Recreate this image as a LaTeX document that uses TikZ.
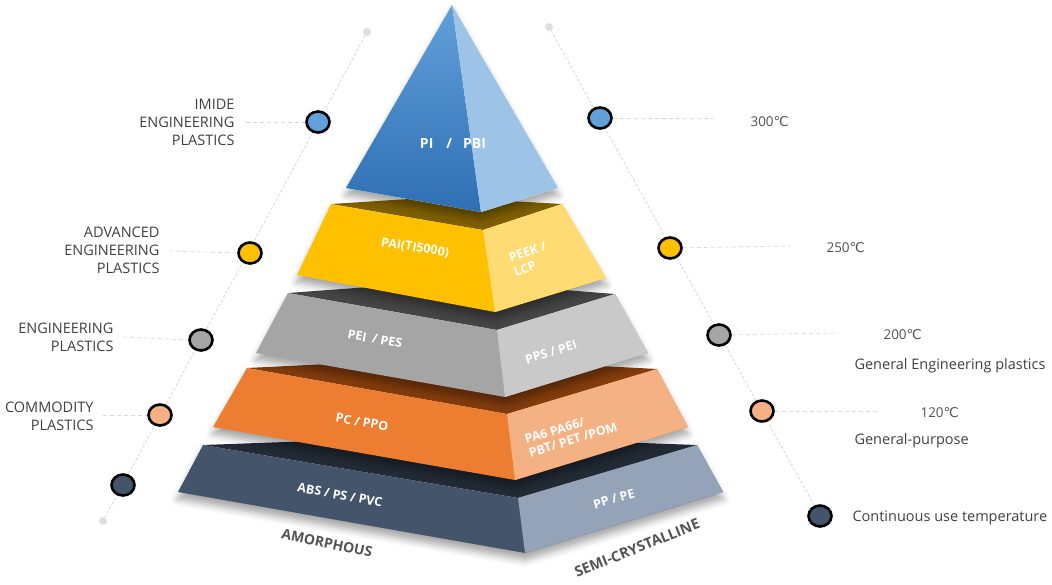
\documentclass[tikz,border=0pt]{standalone}
\usepackage{fontspec}
\setmainfont{Open Sans}
\newfontfamily\degfont{DejaVu Sans}
\usetikzlibrary{calc,shapes.geometric,shadows.blur}

\definecolor{txtgray}{HTML}{404040}
\definecolor{piTop}{HTML}{62A0D9}
\definecolor{piBot}{HTML}{2E6FB4}
\definecolor{piR}{HTML}{9DC3E6}
\definecolor{paiL}{HTML}{FFC000}
\definecolor{paiR}{HTML}{FFDB74}
\definecolor{paiT}{HTML}{7F6000}
\definecolor{peiL}{HTML}{A5A5A5}
\definecolor{peiR}{HTML}{C9C9C9}
\definecolor{peiT}{HTML}{454545}
\definecolor{pcL}{HTML}{ED7D31}
\definecolor{pcR}{HTML}{F4B183}
\definecolor{pcT}{HTML}{843C0C}
\definecolor{absL}{HTML}{44546A}
\definecolor{absR}{HTML}{95A3B8}
\definecolor{absT}{HTML}{222A35}

\newcommand{\degC}{{\degfont ℃}}

\begin{document}
\begin{tikzpicture}[x=1pt,y=-1pt,
  guide/.style={draw=gray!35, dash pattern=on 3pt off 2pt, line width=0.7pt},
  leader/.style={draw=gray!30, dash pattern=on 4pt off 3pt, line width=0.7pt},
  marker/.style={ellipse, draw=black, line width=2.6pt, minimum width=23pt, minimum height=21pt, inner sep=0pt},
  enddot/.style={circle, fill=gray!25, minimum size=8pt, inner sep=0pt},
  lbl/.style={font=\fontsize{14.5}{18}\selectfont, text=txtgray, align=right, anchor=east},
  rlbl/.style={font=\fontsize{14.5}{18}\selectfont, text=txtgray, anchor=west},
  temp/.style={font=\fontsize{13.5}{16}\selectfont, text=txtgray!90, anchor=west},
  tag/.style={font=\bfseries\fontsize{12.5}{15}\selectfont, text=white, align=left, inner sep=0pt},
  side/.style={font=\bfseries\fontsize{14}{16}\selectfont, text=txtgray!90, inner sep=0pt},
  tiershadow/.style={blur shadow={shadow xshift=0pt, shadow yshift=-7pt, shadow opacity=35, shadow blur radius=7pt}}
]
\useasboundingbox (0,0) rectangle (1052,584);

% guide lines with end dots
\node[enddot] (topL) at (367,32) {};
\node[enddot] (botL) at (103,521) {};
\node[enddot] (topR) at (549,27) {};
\coordinate (botR) at (820,516);
\draw[guide] (topL) -- (botL);
\draw[guide] (topR) -- (botR);

% tier corners
\coordinate (abs-LT) at (203,445); \coordinate (abs-FT) at (518,498); \coordinate (abs-RT) at (697,445);
\coordinate (abs-RB) at (723,492); \coordinate (abs-FB) at (525,553); \coordinate (abs-LB) at (178,492);
\coordinate (abs-B) at (450,436);
\coordinate (pc-LT) at (247,368); \coordinate (pc-FT) at (507,414); \coordinate (pc-RT) at (657,369);
\coordinate (pc-RB) at (688,427); \coordinate (pc-FB) at (515,480); \coordinate (pc-LB) at (213,427);
\coordinate (pc-B) at (450,358);
\coordinate (pei-LT) at (288,293); \coordinate (pei-FT) at (497,330); \coordinate (pei-RT) at (615,294);
\coordinate (pei-RB) at (648,353); \coordinate (pei-FB) at (505,397); \coordinate (pei-LB) at (256,353);
\coordinate (pei-B) at (450,281);
\coordinate (pai-LT) at (331,204); \coordinate (pai-FT) at (483,230); \coordinate (pai-RT) at (562,204);
\coordinate (pai-RB) at (606,278); \coordinate (pai-FB) at (495,312); \coordinate (pai-LB) at (297,275);
\coordinate (pai-B) at (440,197);

% tiers, bottom up
\foreach \t/\cl/\cr/\ct in {abs/absL/absR/absT,pc/pcL/pcR/pcT,pei/peiL/peiR/peiT,pai/paiL/paiR/paiT}{
  \fill[\ct] (\t-LT) -- (\t-B) -- (\t-RT) -- (\t-FT) -- cycle;
  \fill[\cl, tiershadow] (\t-LT) -- (\t-FT) -- (\t-RT) -- (\t-RB) -- (\t-FB) -- (\t-LB) -- cycle;
  \fill[\cr] (\t-FT) -- (\t-RT) -- (\t-RB) -- (\t-FB) -- cycle;
}

% top pyramid
\coordinate (apex) at (452,5);
\coordinate (pi-L) at (346,188); \coordinate (pi-F) at (481,212); \coordinate (pi-R) at (558,188);
\fill[white, tiershadow] (apex) -- (pi-L) -- (pi-F) -- (pi-R) -- cycle;
\shade[top color=piTop, bottom color=piBot] (apex) -- (pi-L) -- (pi-F) -- cycle;
\fill[piR] (apex) -- (pi-F) -- (pi-R) -- cycle;

% tier labels
\node[tag, font=\bfseries\fontsize{14}{16}\selectfont] (piTxt) at (453,143) {PI\hspace{13pt}/\hspace{11pt}PBI};
\node[tag, rotate=-9] (paiTxt) at (415,248) {PAI(TI5000)};
\node[tag, rotate=19] (peekTxt) at (530,259) {PEEK /\\LCP};
\node[tag, rotate=-10] (peiTxt) at (375,339) {PEI\hspace{6pt}/ PES};
\node[tag, rotate=17] (ppsTxt) at (551,352) {PPS / PEI};
\node[tag, rotate=-10] (pcTxt) at (362,422) {PC / PPO};
\node[tag, rotate=17, font=\bfseries\fontsize{12.5}{14}\selectfont] (paTxt) at (571,433) {PA6 PA66/\\PBT/ PET /POM};
\node[tag, rotate=-10] (absTxt) at (340,495) {ABS / PS / PVC};
\node[tag, rotate=16] (ppTxt) at (614,499) {PP / PE};
\node[side, rotate=-12] (amorph) at (327,543) {AMORPHOUS};
\node[side, rotate=22, font=\bfseries\fontsize{14.5}{16}\selectfont] (semi) at (637,548) {SEMI-CRYSTALLINE};

% left side markers
\node[marker, fill=piTop] (mL1) at (318,122) {};
\node[marker, fill=paiL] (mL2) at (250,253) {};
\node[marker, fill=peiL] (mL3) at (201,340) {};
\node[marker, fill=pcR] (mL4) at (160,415) {};
\node[marker, fill=absL] (mL5) at (123,485) {};
\node[lbl] (imide) at (238,122) {IMIDE\\ENGINEERING\\PLASTICS};
\node[lbl] (adv) at (163,250) {ADVANCED\\ENGINEERING\\PLASTICS};
\node[lbl] (eng) at (117,337) {ENGINEERING\\PLASTICS};
\node[lbl] (comm) at (97,416) {COMMODITY\\PLASTICS};
\draw[leader] (imide.east |- mL1) ++(8,0) -- (mL1);
\draw[leader] (adv.east |- mL2) ++(6,-2) -- (mL2.west);
\draw[leader] (eng.east |- mL3) ++(6,-3) -- (mL3.west);
\draw[leader] (comm.east |- mL4) ++(6,0) -- (mL4);

% right side markers
\node[marker, fill=piTop] (mR1) at (600,118) {};
\node[marker, fill=paiL] (mR2) at (670,248) {};
\node[marker, fill=peiL] (mR3) at (719,335) {};
\node[marker, fill=pcR] (mR4) at (762,411) {};
\node[marker, fill=absL] (mR5) at (820,516) {};
\coordinate (eR1) at (713,118);
\coordinate (eR2) at (790,246);
\coordinate (eR3) at (838,333);
\coordinate (eR4) at (877,411);
\draw[leader] (mR1) -- (eR1);
\draw[leader] (mR2) -- (eR2);
\draw[leader] (mR3) -- (eR3);
\draw[leader] (mR4) -- (eR4);
\node[temp] (t300) at (747,122) {300\degC};
\node[temp] (t250) at (823,248) {250\degC};
\node[temp] (t200) at (880,335) {200\degC};
\node[rlbl] (gep) at (851,366) {General Engineering plastics};
\node[temp] (t120) at (917,413) {120\degC};
\node[rlbl] (gp) at (851,441) {General-purpose};
\node[rlbl] (cut) at (849,518) {Continuous use temperature};
\end{tikzpicture}
\end{document}
